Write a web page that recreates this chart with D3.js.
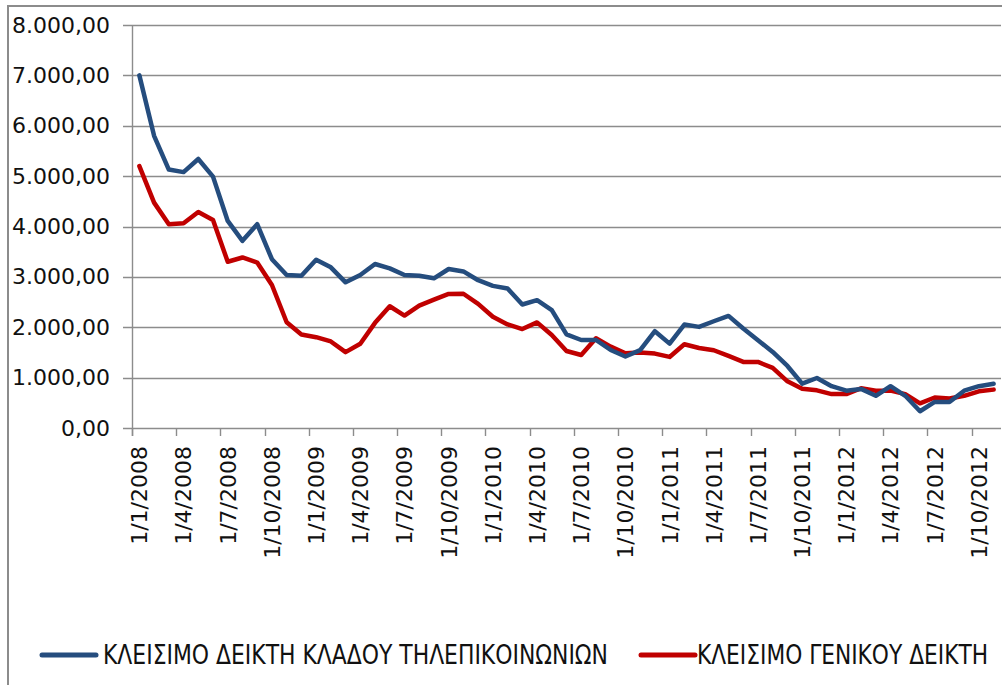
<!DOCTYPE html>
<html>
<head>
<meta charset="utf-8">
<script src="https://cdn.jsdelivr.net/npm/d3@7"></script>
<style>
  body { margin: 0; background: #fff; }
  svg { display: block; }
</style>
</head>
<body>
<svg></svg>
<script>
var width = 1002,
	height = 685;

// monthly closes, Jan 2008 .. Nov 2012
var months = d3.timeMonth.range(new Date(2008, 0, 1), new Date(2012, 11, 1));

var telecom = [7000, 5800, 5130, 5080, 5340, 4990, 4110, 3715, 4045, 3350,
	3036, 3022, 3340, 3189, 2892, 3037, 3255, 3169, 3037, 3024,
	2971, 3156, 3108, 2934, 2822, 2769, 2452, 2538, 2340, 1859,
	1747, 1747, 1549, 1420, 1545, 1921, 1675, 2053, 2007, 2119,
	2225, 1974, 1742, 1510, 1232, 881, 993, 830, 741, 776,
	639, 830, 639, 333, 517, 517, 741, 830, 878];

var general = [5199, 4474, 4045, 4065, 4289, 4130, 3300, 3385, 3285, 2838,
	2099, 1855, 1803, 1718, 1506, 1671, 2087, 2417, 2232, 2430,
	2549, 2661, 2665, 2465, 2208, 2057, 1964, 2096, 1846, 1529,
	1450, 1780, 1615, 1483, 1500, 1477, 1411, 1662, 1589, 1543,
	1430, 1311, 1311, 1192, 927, 781, 748, 673, 673, 789,
	741, 741, 673, 490, 605, 585, 639, 728, 762];

var seriesNames = ["ΚΛΕΙΣΙΜΟ ΔΕΙΚΤΗ ΚΛΑΔΟΥ ΤΗΛΕΠΙΚΟΙΝΩΝΙΩΝ", "ΚΛΕΙΣΙΜΟ ΓΕΝΙΚΟΥ ΔΕΙΚΤΗ"];
var seriesColors = ["#254d7e", "#c00000"];
var yTicks = [0, 1000, 2000, 3000, 4000, 5000, 6000, 7000, 8000];

var svg = d3.select("svg")
			.attr("width", width)
			.attr("height", height);

var plotLeft = 132, plotRight = 1001, plotTop = 25, plotBottom = 428;

var x = d3.scaleBand()
	.domain(months.map(function(d, i) { return i; }))
	.range([plotLeft, plotRight])
	.padding(0);
var bw = x.bandwidth();

var y = d3.scaleLinear()
	.domain([0, 8000])
	.range([plotBottom, plotTop]);

var grFormat = d3.formatLocale({decimal: ",", thousands: ".", grouping: [3], currency: ["", ""]}).format(",.2f");
var labelFormat = d3.timeFormat("%-d/%-m/%Y");

// outer frame
svg.append("rect")
	.attr("x", 8).attr("y", 6)
	.attr("width", 1100).attr("height", 800)
	.attr("fill", "none")
	.attr("stroke", "#8c8c8c")
	.attr("stroke-width", 2);

// gridlines
svg.append("g")
	.selectAll("line")
	.data(yTicks)
	.enter()
	.append("line")
	.attr("x1", plotLeft - 9)
	.attr("x2", plotRight)
	.attr("y1", function(d) { return Math.round(y(d)) + 0.5; })
	.attr("y2", function(d) { return Math.round(y(d)) + 0.5; })
	.attr("stroke", "#8c8c8c")
	.attr("stroke-width", 1.4);

// y labels
var yAxis = svg.append("g")
	.attr("transform", "translate(" + 110 + ",0)")
	.call(d3.axisLeft(y).tickValues(yTicks).tickSize(0).tickPadding(0).tickFormat(grFormat));
yAxis.select(".domain").remove();
yAxis.selectAll("text")
	.attr("font-family", "DejaVu Sans")
	.attr("font-size", "22px")
	.attr("fill", "#111");

// axis line
svg.append("line")
	.attr("x1", plotLeft + 0.5).attr("x2", plotLeft + 0.5)
	.attr("y1", plotTop).attr("y2", plotBottom + 8)
	.attr("stroke", "#8c8c8c").attr("stroke-width", 1.4);

// x ticks every 3 months
var tickIdx = months.map(function(d, i) { return i; }).filter(function(i) { return i % 3 === 0; });

svg.append("g")
	.selectAll("line")
	.data(tickIdx)
	.enter()
	.append("line")
	.attr("x1", function(i) { return Math.round(x(i)) + 0.5; })
	.attr("x2", function(i) { return Math.round(x(i)) + 0.5; })
	.attr("y1", plotBottom)
	.attr("y2", plotBottom + 8)
	.attr("stroke", "#8c8c8c")
	.attr("stroke-width", 1.4);

svg.append("g")
	.selectAll("text")
	.data(tickIdx)
	.enter()
	.append("text")
	.attr("transform", function(i) {
		return "translate(" + (x(i) + bw / 2) + "," + 446 + ") rotate(-90)";
	})
	.attr("text-anchor", "end")
	.attr("dy", "0.36em")
	.attr("font-family", "DejaVu Sans")
	.attr("font-size", "22px")
	.attr("fill", "#111")
	.text(function(i) { return labelFormat(months[i]); });

// lines
var line = d3.line()
	.x(function(d, i) { return x(i) + bw / 2; })
	.y(function(d) { return y(d); });

[general, telecom].forEach(function(s) {
	var c = s === telecom ? seriesColors[0] : seriesColors[1];
	svg.append("path")
		.datum(s)
		.attr("d", line)
		.attr("fill", "none")
		.attr("stroke", c)
		.attr("stroke-width", 4.5)
		.attr("stroke-linejoin", "round")
		.attr("stroke-linecap", "round");
});

// legend
var legendItems = [
	{name: seriesNames[0], color: seriesColors[0], lx: 42, tx: 103, tw: 505},
	{name: seriesNames[1], color: seriesColors[1], lx: 641, tx: 697, tw: 291}
];
var legend = svg.append("g");
legendItems.forEach(function(d) {
	legend.append("line")
		.attr("x1", d.lx).attr("x2", d.lx + 54)
		.attr("y1", 655).attr("y2", 655)
		.attr("stroke", d.color)
		.attr("stroke-width", 5)
		.attr("stroke-linecap", "round");
	legend.append("text")
		.attr("x", d.tx)
		.attr("y", 655)
		.attr("dy", "0.36em")
		.attr("font-family", "DejaVu Sans Condensed, DejaVu Sans")
		.attr("font-size", "26px")
		.attr("textLength", d.tw)
		.attr("lengthAdjust", "spacingAndGlyphs")
		.attr("fill", "#111")
		.text(d.name);
});
</script>
</body>
</html>
